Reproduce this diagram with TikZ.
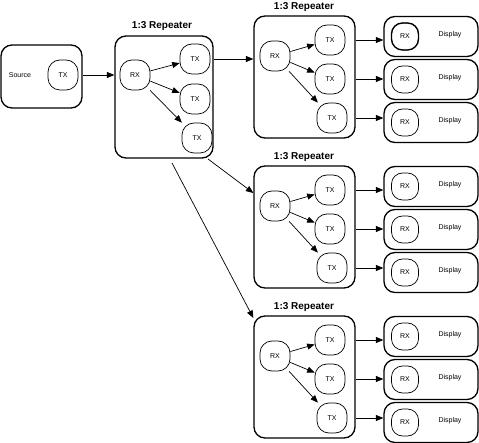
\documentclass[tikz,border=0pt]{standalone}
\usepackage{fontspec}
\setmainfont{Liberation Sans}
\usetikzlibrary{arrows.meta,calc}
\begin{document}
\begin{tikzpicture}[x=1pt,y=-1pt,
  bigbox/.style={draw,line width=1.3pt,rounded corners=11pt},
  port/.style={draw,line width=0.7pt,rounded corners=12pt,minimum width=30pt,minimum height=30pt,inner sep=0pt,font=\fontsize{7}{8}\selectfont},
  dport/.style={draw,line width=0.7pt,rounded corners=11pt,minimum width=27pt,minimum height=27pt,inner sep=0pt,font=\fontsize{7}{8}\selectfont},
  lbl/.style={font=\fontsize{7}{8}\selectfont,inner sep=0pt},
  ttl/.style={font=\fontsize{10}{12}\selectfont\bfseries,inner sep=0pt},
  arr/.style={-{Triangle[length=7.5pt,width=6pt]},line width=0.7pt}
]
\useasboundingbox (0,0) rectangle (479,443);
% source
\node[bigbox,minimum width=81pt,minimum height=63pt,inner sep=0pt] (src) at (41.5,76.5) {};
\node[lbl] (srclbl) at (20,75) {Source};
\node[port] (srctx) at (63,75) {TX};
% repeater 1
\node[bigbox,minimum width=98pt,minimum height=122pt,inner sep=0pt] (rep) at (164,97) {};
\node[ttl] (reptitle) at (162,26) {1:3 Repeater};
\node[port] (rrx) at (135,75) {RX};
\node[port] (rt1) at (195,59) {TX};
\node[port] (rt2) at (195,99) {TX};
\node[port] (rt3) at (197,138) {TX};
\draw[arr] (rrx) -- (rt1);
\draw[arr] (rrx) -- (rt2);
\draw[arr] (rrx) -- (rt3);
\draw[arr] (src.east |- srctx) -- (rep.west |- srctx);
% sub repeaters
\foreach \k/\o in {a/0,b/150,c/300}{
  \node[bigbox,minimum width=101pt,minimum height=122pt,inner sep=0pt] (rep\k) at (304.5,77+\o) {};
  \node[ttl] (title\k) at (304,7+\o) {1:3 Repeater};
  \node[port] (rx\k) at (275,56+\o) {RX};
  \node[port] (ta\k) at (330,40+\o) {TX};
  \node[port] (tb\k) at (330,79+\o) {TX};
  \node[port] (tc\k) at (332,118+\o) {TX};
  \draw[arr] (rx\k) -- (ta\k);
  \draw[arr] (rx\k) -- (tb\k);
  \draw[arr] (rx\k) -- (tc\k);
  \foreach \r/\yc in {a/36.5,b/79.5,c/122.5}{
    \node[bigbox,minimum width=94pt,minimum height=40pt,inner sep=0pt] (d\k\r) at (431,\yc+\o) {};
    \node[dport] (drx\k\r) at (405,\yc+\o) {RX};
    \node[lbl] (dl\k\r) at (450,\yc-1.5+\o) {Display};
    \draw[arr] (rep\k.east |- t\r\k) -- (d\k\r.west |- t\r\k);
  }
}
\draw[line width=1.3pt,rounded corners=11pt] ($(drxaa.center)+(-13.5,-13.5)$) rectangle ($(drxaa.center)+(13.5,13.5)$);
% connectors from repeater 1
\draw[arr] (rep.east |- rt1) -- (repa.west |- rt1);
\coordinate (s2) at (208,159);
\coordinate (s3) at (172,163);
\draw[arr] (s2) -- (repb.west |- 0,193);
\draw[arr] (s3) -- (repc.west |- 0,318);
\end{tikzpicture}
\end{document}
